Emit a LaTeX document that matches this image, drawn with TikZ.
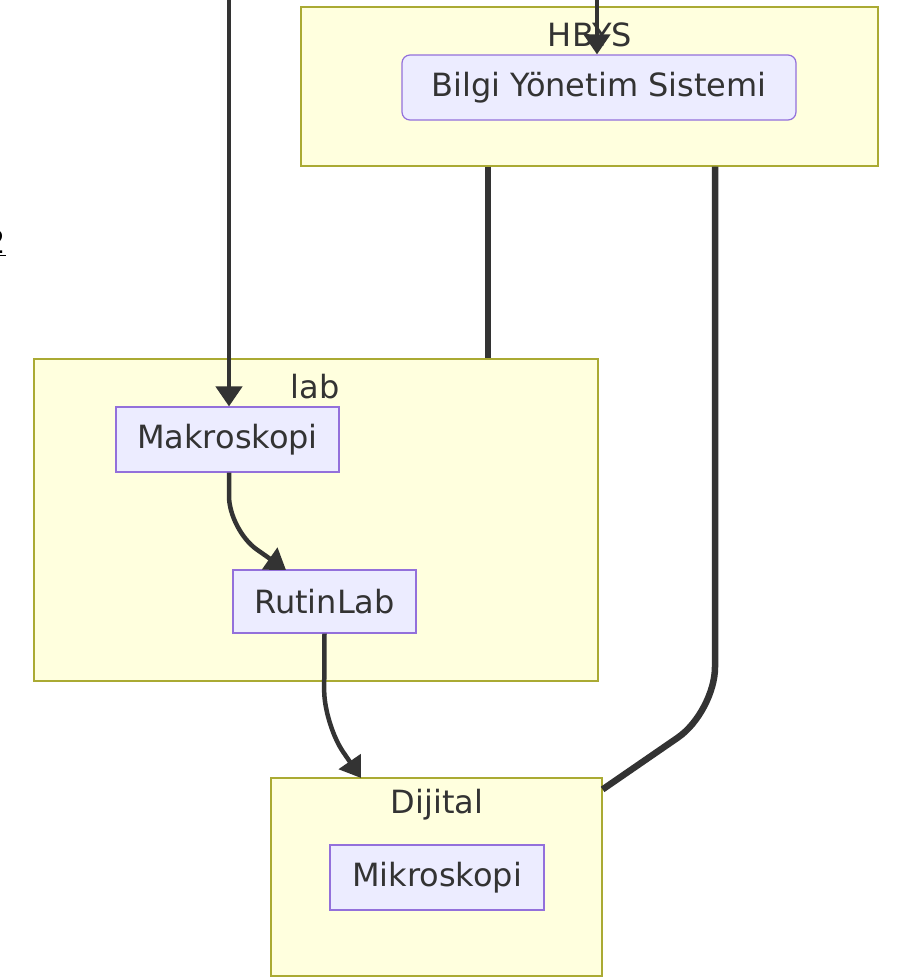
\documentclass[tikz,border=0pt]{standalone}
\usepackage{fontspec}
\setmainfont{DejaVu Sans}
\usepackage{tikz}
\usetikzlibrary{arrows.meta, positioning}

\definecolor{clfill}{HTML}{FFFFDE}
\definecolor{cldraw}{HTML}{AAAA33}
\definecolor{ndfill}{HTML}{ECECFF}
\definecolor{nddraw}{HTML}{9370DB}
\definecolor{ink}{HTML}{333333}

\begin{document}
\begin{tikzpicture}[
        x=1pt, y=-1pt,
        >={Triangle[length=20pt, width=26pt]},
        cluster/.style={rectangle, draw=cldraw, fill=clfill, line width=1.2pt, inner sep=0pt},
        ctitle/.style={font=\fontsize{32}{38}\selectfont, text=ink, inner sep=0pt},
        box/.style={rectangle, draw=nddraw, fill=ndfill, line width=1.2pt, inner sep=0pt,
                    font=\fontsize{32}{38}\selectfont, text=ink},
        arr/.style={->, draw=ink, line width=4.5pt, rounded corners=34pt},
        link/.style={-, draw=ink, line width=6.5pt, rounded corners=45pt}
    ]
        \useasboundingbox (0,0) rectangle (904,980);

        % kesik etiket (sol kenar)
        \node[anchor=east, font=\fontsize{32}{38}\selectfont, inner sep=0pt] (frag) at (6,243) {\underline{2}};

        % HBYS
        \node[cluster, minimum width=577pt, minimum height=159pt] (hbys) at (589.5,86.5) {};
        \node[ctitle] (thbys) at (590,35) {HBYS};
        \node[box, rounded corners=8pt, minimum width=394pt, minimum height=65pt] (bys) at (599,87.5) {Bilgi Yönetim Sistemi};

        % lab
        \node[cluster, minimum width=564pt, minimum height=322pt] (lab) at (316,520) {};
        \node[ctitle] (tlab) at (315,387) {lab};
        \node[box, minimum width=223pt, minimum height=65pt] (makro) at (227.5,439.5) {Makroskopi};
        \node[box, minimum width=183pt, minimum height=63pt] (rutin) at (324.5,601.5) {RutinLab};

        % Dijital
        \node[cluster, minimum width=331pt, minimum height=198pt] (dijital) at (436.5,877) {};
        \node[ctitle] (tdij) at (437,805) {Dijital};
        \node[box, minimum width=214pt, minimum height=65pt] (mikro) at (437,877.5) {Mikroskopi};

        % dis baglantilar (ustten gelen)
        \coordinate (inA) at (229,0);
        \coordinate (inB) at (597,0);
        \draw[arr] (inA) -- (inA |- makro.north);
        \draw[arr] (inB) -- (inB |- bys.north);

        % lab icindeki akis
        \coordinate (rutinIn) at (286,570);
        \draw[arr] (makro.south -| inA) -- (229,530) -- (rutinIn);
        \coordinate (dijIn) at (361,778);
        \draw[arr] (rutin.south) -- (324,724) -- (dijIn);

        % HBYS -> alt gruplar
        \coordinate (la) at (488,0);
        \coordinate (lb) at (715,0);
        \draw[link] (la |- hbys.south) -- (la |- lab.north);
        \draw[link] (lb |- hbys.south) -- (715,712) -- ([yshift=-12pt]dijital.north east);

    \end{tikzpicture}
\end{document}
